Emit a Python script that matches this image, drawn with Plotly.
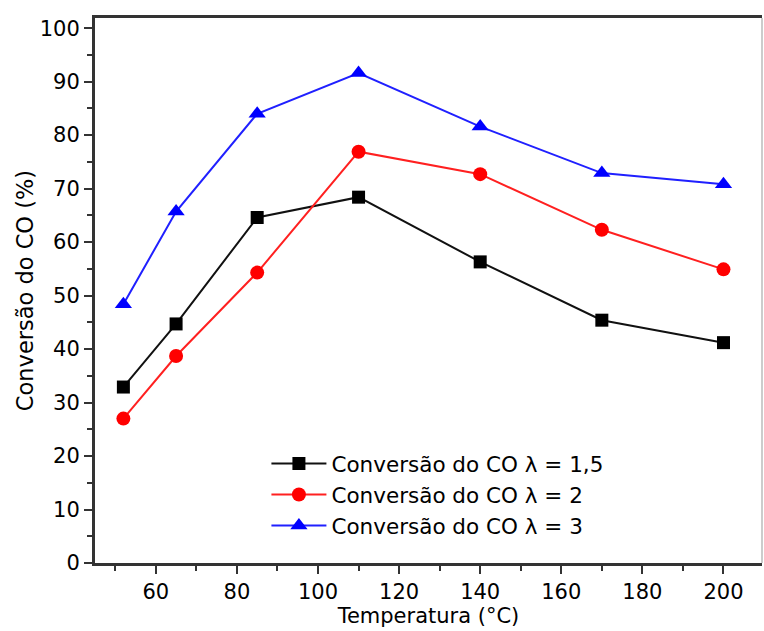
import plotly.graph_objects as go

temperatura = [52, 65, 85, 110, 140, 170, 200]
conv_15 = [32.9, 44.7, 64.6, 68.4, 56.3, 45.4, 41.2]
conv_2 = [27.0, 38.7, 54.3, 76.9, 72.7, 62.3, 54.9]
conv_3 = [48.4, 65.7, 84.0, 91.6, 81.6, 72.9, 70.8]
nomes = ["Conversão do CO λ = 1,5", "Conversão do CO λ = 2", "Conversão do CO λ = 3"]

FONT = "DejaVu Sans"

fig = go.Figure()
fig.add_trace(go.Scatter(x=temperatura, y=conv_15, name=nomes[0], mode="lines+markers",
                         line=dict(color="#111111", width=2),
                         marker=dict(symbol="square", size=13, color="#000000")))
fig.add_trace(go.Scatter(x=temperatura, y=conv_2, name=nomes[1], mode="lines+markers",
                         line=dict(color="#ff2020", width=2),
                         marker=dict(symbol="circle", size=14, color="#ff0000")))
fig.add_trace(go.Scatter(x=temperatura, y=conv_3, name=nomes[2], mode="lines+markers",
                         line=dict(color="#2020ff", width=2),
                         marker=dict(symbol="triangle-up", size=15, color="#0000ff")))

fig.update_layout(
    width=764, height=631,
    margin=dict(l=95, r=2, t=18, b=68),
    paper_bgcolor="white", plot_bgcolor="white",
    font=dict(family=FONT, color="black", size=21),
    showlegend=True,
    legend=dict(x=0.257, y=0.22, xanchor="left", yanchor="top",
                bgcolor="rgba(0,0,0,0)", borderwidth=0,
                font=dict(family=FONT, size=21.5, color="black"),
                tracegroupgap=0, itemwidth=55),
    xaxis=dict(range=[45, 209.5], tick0=60, dtick=20, automargin=False,
               showgrid=False, zeroline=False,
               showline=True, linecolor="#333333", linewidth=3, mirror=True,
               ticks="outside", ticklen=8, tickwidth=2, tickcolor="#333333",
               minor=dict(ticks="outside", ticklen=5, tickwidth=2, tickcolor="#333333",
                          tick0=50, dtick=20, showgrid=False),
               tickfont=dict(family=FONT, size=21),
               title=dict(text="Temperatura (°C)", font=dict(family=FONT, size=21), standoff=4)),
    yaxis=dict(range=[0, 101.9], tick0=0, dtick=10, automargin=False,
               showgrid=False, zeroline=False,
               showline=True, linecolor="#333333", linewidth=3,
               ticks="outside", ticklen=8, tickwidth=2, tickcolor="#333333",
               minor=dict(ticks="outside", ticklen=5, tickwidth=2, tickcolor="#333333",
                          tick0=5, dtick=10, showgrid=False),
               tickfont=dict(family=FONT, size=21),
               title=dict(text="Conversão do CO (%)", font=dict(family=FONT, size=22.5), standoff=0)),
)

fig.add_shape(type="line", xref="paper", yref="paper", x0=1, x1=1, y0=0, y1=1,
              line=dict(color="#999999", width=1))

fig.write_html(
    "out.html",
    config={"displayModeBar": False},
    post_script="document.body.style.margin='0';document.body.style.overflow='hidden';",
)
